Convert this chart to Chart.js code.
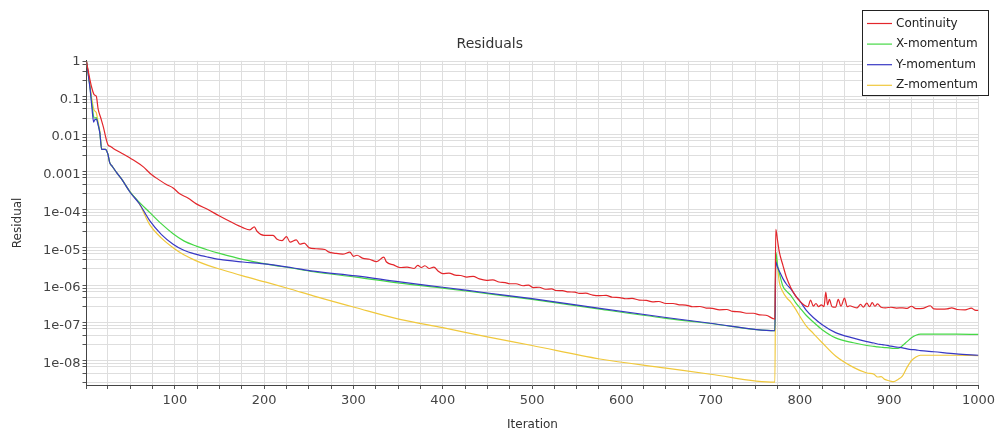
<!DOCTYPE html>
<html>
<head>
<meta charset="utf-8">
<title>Residuals</title>
<script src="https://cdn.jsdelivr.net/npm/chart.js@4.4.1/dist/chart.umd.min.js"></script>
<style>
  body { margin: 0; background: #fff; }
  canvas { display: block; }
</style>
</head>
<body>
<canvas id="residualChart" width="999" height="436"></canvas>
<script>
// continuity residual, sampled where the trace changes
const contIter = [1, 3, 5, 7, 9, 10, 12, 14, 17, 20, 23, 25, 28, 31, 40, 53, 65, 72, 79, 90, 98, 105, 115, 124, 137, 150, 163, 176,
  184, 189, 192, 200, 210, 214, 220, 225, 229, 236, 240, 245, 250, 258, 268, 272, 280, 288, 296, 300, 304, 310, 318, 326, 334, 337,
  345, 352, 360, 368, 372, 376, 380, 385, 390, 395, 400, 407, 414, 420, 427, 434, 441, 449, 456, 463, 470, 475, 482, 490, 496,
  501, 508, 515, 522, 527, 534, 541, 548, 553, 560, 568, 576, 583, 590, 598, 605, 612, 620, 628, 635, 642, 650, 658, 665, 672,
  680, 688, 695, 702, 710, 718, 725, 733, 740, 748, 755, 762, 770, 772, 773, 775, 777, 781, 785, 790, 795, 800, 805, 809, 812,
  815, 818, 821, 824, 827, 829, 831, 833, 836, 840, 843, 846, 850, 853, 856, 860, 864, 868, 871, 875, 878, 881, 884, 887, 891,
  896, 902, 908, 915, 920, 925, 930, 938, 946, 950, 958, 965, 970, 976, 985, 992, 996, 1000];
const continuity = [1, 0.56, 0.32, 0.2, 0.14, 0.13, 0.12, 0.056, 0.032, 0.018, 0.0089, 0.0063, 0.0056, 0.005, 0.0038, 0.0025,
  0.0016, 0.0011, 8.3e-4, 5.6e-4, 4.5e-4, 3.2e-4, 2.4e-4, 1.7e-4, 1.2e-4, 8.1e-5, 5.6e-5, 4.0e-5,
  3.5e-5, 4.2e-5, 3.2e-5, 2.5e-5, 2.5e-5, 2.0e-5, 1.8e-5, 2.3e-5, 1.65e-5, 1.9e-5, 1.45e-5, 1.55e-5, 1.18e-5, 1.1e-5, 1.05e-5,
  9.1e-6, 8.3e-6, 7.9e-6, 8.9e-6, 6.9e-6, 7.4e-6, 6.2e-6, 5.8e-6, 5.0e-6, 6.6e-6, 4.9e-6,
  4.1e-6, 3.5e-6, 3.6e-6, 3.3e-6, 4.0e-6, 3.5e-6, 3.9e-6, 3.3e-6, 3.6e-6, 2.8e-6, 2.4e-6, 2.5e-6, 2.2e-6, 2.15e-6, 1.95e-6,
  2.05e-6, 1.75e-6, 1.6e-6, 1.65e-6, 1.45e-6, 1.4e-6, 1.3e-6, 1.3e-6, 1.15e-6, 1.2e-6,
  1.03e-6, 1.05e-6, 9.3e-7, 9.5e-7, 8.6e-7, 8.5e-7, 7.9e-7, 7.8e-7, 7.2e-7, 7.3e-7, 6.5e-7, 6.3e-7, 6.4e-7, 5.7e-7, 5.6e-7,
  5.2e-7, 5.3e-7, 4.8e-7, 4.7e-7, 4.3e-7, 4.4e-7, 3.9e-7, 3.9e-7, 3.6e-7, 3.55e-7,
  3.2e-7, 3.25e-7, 2.95e-7, 2.9e-7, 2.65e-7, 2.7e-7, 2.4e-7, 2.35e-7, 2.15e-7, 2.15e-7, 1.95e-7, 1.9e-7, 1.55e-7, 1.5e-7,
  3.6e-5, 1.8e-5, 8.9e-6, 4.0e-6, 1.9e-6, 1.0e-6, 6.3e-7, 4.5e-7, 3.5e-7, 3.2e-7, 4.8e-7,
  3.3e-7, 3.9e-7, 3.2e-7, 3.6e-7, 3.2e-7, 7.8e-7, 3.6e-7, 5.0e-7, 3.2e-7, 3.1e-7, 5.0e-7, 3.3e-7, 5.4e-7, 3.2e-7, 3.4e-7,
  3.15e-7, 3.0e-7, 3.7e-7, 3.1e-7, 4.0e-7, 3.2e-7, 4.1e-7, 3.3e-7, 3.8e-7, 3.1e-7,
  3.0e-7, 3.1e-7, 2.95e-7, 3.0e-7, 2.9e-7, 3.3e-7, 2.85e-7, 2.9e-7, 3.4e-7, 2.8e-7, 2.75e-7, 2.8e-7, 3.0e-7, 2.7e-7,
  2.65e-7, 2.95e-7, 2.6e-7, 2.55e-7];

// momentum residuals share one set of sample iterations
const momIter = [1, 3, 5, 7, 9, 10, 12, 14, 16, 18, 22, 25, 27, 30, 35, 40, 50, 60, 72, 85, 98, 110, 124, 137, 150,
  176, 203, 230, 255, 303, 352, 400, 450, 500, 576, 650, 700, 772, 773, 775, 777, 781, 785, 790, 795, 800, 807, 815,
  825, 840, 860, 875, 883, 887, 891, 895, 900, 905, 910, 915, 920, 925, 930, 935, 950, 975, 1000];
const xMomentum = [1, 0.45, 0.2, 0.079, 0.035, 0.032, 0.033, 0.022, 0.0126, 0.0047, 0.0047, 0.0035, 0.0021, 0.00166, 0.00112,
  7.9e-4, 3.5e-4, 1.9e-4, 1.0e-4, 5.0e-5, 2.75e-5, 1.78e-5, 1.29e-5, 1.02e-5, 8.3e-6,
  5.75e-6, 4.3e-6, 3.4e-6, 2.7e-6, 1.95e-6, 1.35e-6, 1.0e-6, 7.1e-7, 5.0e-7, 2.75e-7, 1.58e-7, 1.15e-7, 7.4e-8, 8.9e-6, 4.0e-6,
  2.5e-6, 1.12e-6, 8.3e-7, 6.3e-7, 4.2e-7, 3.0e-7, 1.9e-7, 1.26e-7, 7.9e-8, 4.8e-8, 3.55e-8, 3.0e-8, 2.85e-8, 2.75e-8, 2.7e-8,
  2.65e-8, 2.6e-8, 2.5e-8, 2.5e-8, 3.0e-8, 3.8e-8, 4.8e-8, 5.6e-8, 6.0e-8, 6.0e-8, 6.0e-8, 5.9e-8];
const yMomentum = [1, 0.45, 0.19, 0.063, 0.025, 0.028, 0.03, 0.021, 0.0126, 0.0047, 0.0047, 0.0035, 0.0021, 0.00166, 0.00112,
  7.9e-4, 3.4e-4, 1.74e-4, 6.0e-5, 2.6e-5, 1.45e-5, 1.0e-5, 7.8e-6, 6.6e-6, 5.75e-6,
  4.9e-6, 4.3e-6, 3.5e-6, 2.8e-6, 2.1e-6, 1.45e-6, 1.05e-6, 7.4e-7, 5.25e-7, 2.9e-7, 1.66e-7, 1.17e-7, 7.4e-8, 5.0e-6, 3.55e-6,
  2.8e-6, 1.78e-6, 1.26e-6, 9.3e-7, 6.3e-7, 4.5e-7, 2.6e-7, 1.66e-7, 1.07e-7, 6.6e-8, 4.7e-8, 3.8e-8, 3.5e-8, 3.3e-8, 3.2e-8,
  3.1e-8, 2.95e-8, 2.8e-8, 2.7e-8, 2.6e-8, 2.45e-8, 2.35e-8, 2.3e-8, 2.2e-8, 2.05e-8, 1.8e-8, 1.66e-8];
const zMomentum = [1, 0.5, 0.22, 0.1, 0.056, 0.05, 0.044, 0.025, 0.014, 0.0047, 0.0047, 0.0035, 0.0021, 0.00166, 0.00112,
  7.9e-4, 3.5e-4, 1.74e-4, 4.7e-5, 2.1e-5, 1.17e-5, 7.6e-6, 5.25e-6, 4.0e-6, 3.2e-6,
  2.1e-6, 1.41e-6, 9.3e-7, 6.2e-7, 3.0e-7, 1.48e-7, 8.9e-8, 5.1e-8, 3.0e-8, 1.32e-8, 7.6e-9, 5.2e-9, 3.2e-9, 7.9e-6, 3.55e-6,
  1.41e-6, 7.9e-7, 5.6e-7, 4.2e-7, 2.8e-7, 1.78e-7, 1.0e-7, 6.3e-8, 3.55e-8, 1.58e-8, 7.9e-9, 5.6e-9, 5.2e-9, 4.4e-9, 4.5e-9,
  3.8e-9, 3.5e-9, 3.3e-9, 3.8e-9, 4.7e-9, 7.9e-9, 1.2e-8, 1.5e-8, 1.66e-8, 1.66e-8, 1.66e-8, 1.62e-8];

const seriesNames = ['Continuity', 'X-momentum', 'Y-momentum', 'Z-momentum'];
const seriesColors = ['#e3262b', '#45d845', '#3838c4', '#f0c83c'];

// y grid/tick positions inside each decade (multiples of the decade value)
const yGridSteps = [1, 1.2, 3.2, 5.6, 8.3];
const yDecades = [-9, -8, -7, -6, -5, -4, -3, -2, -1, 0];

const FONT = 'DejaVu Sans';

function toPoints(xs, ys) {
  return xs.map((x, i) => ({ x: x, y: ys[i] }));
}

function decadeLabel(v) {
  const e = Math.round(Math.log10(v));
  if (Math.abs(Math.log10(v) - e) > 1e-6) return '';
  if (e >= -3) return String(Math.pow(10, e).toFixed(Math.max(0, -e)));
  return '1e-' + String(-e).padStart(2, '0');
}

// legend box drawn in the top right corner, above the plot
const legendBox = {
  id: 'legendBox',
  afterDraw(chart) {
    const ctx = chart.ctx;
    const x = 862.5, y = 10.5, w = 126, h = 85;
    ctx.save();
    ctx.fillStyle = '#fff';
    ctx.fillRect(x, y, w, h);
    ctx.strokeStyle = '#222';
    ctx.lineWidth = 1;
    ctx.strokeRect(x, y, w, h);
    ctx.font = '12px "' + FONT + '"';
    ctx.textBaseline = 'middle';
    ctx.fillStyle = '#222';
    chart.data.datasets.forEach((ds, i) => {
      const ry = 23.5 + i * 20.6;
      ctx.strokeStyle = ds.borderColor;
      ctx.lineWidth = 1.2;
      ctx.beginPath();
      ctx.moveTo(867, ry);
      ctx.lineTo(892, ry);
      ctx.stroke();
      ctx.fillText(ds.label, 896, ry);
    });
    ctx.restore();
  }
};

const ctx = document.getElementById('residualChart').getContext('2d');

new Chart(ctx, {
  type: 'line',
  data: {
    datasets: [
      { label: seriesNames[0], data: toPoints(contIter, continuity), borderColor: seriesColors[0], order: 0 },
      { label: seriesNames[1], data: toPoints(momIter, xMomentum), borderColor: seriesColors[1], order: 2 },
      { label: seriesNames[2], data: toPoints(momIter, yMomentum), borderColor: seriesColors[2], order: 1 },
      { label: seriesNames[3], data: toPoints(momIter, zMomentum), borderColor: seriesColors[3], order: 3 },
    ],
  },
  options: {
    responsive: false,
    animation: false,
    layout: { padding: { left: 0, right: 19.5, top: 0, bottom: 0 } },
    elements: {
      line: { borderWidth: 1.2, cubicInterpolationMode: 'monotone', fill: false },
      point: { radius: 0 },
    },
    plugins: {
      legend: { display: false },
      tooltip: { enabled: false },
      title: {
        display: true,
        text: 'Residuals',
        color: '#333',
        font: { family: FONT, size: 14, weight: 'normal' },
        padding: { top: 36, bottom: 8 },
      },
    },
    scales: {
      x: {
        type: 'linear',
        min: 1,
        max: 1000,
        afterFit: (scale) => { scale.height = 51; },
        grid: { color: '#dedede', tickColor: '#555', tickLength: 4 },
        border: { color: '#444' },
        ticks: {
          stepSize: 25,
          autoSkip: false,
          maxRotation: 0,
          padding: 4,
          color: '#444',
          font: { family: FONT, size: 13 },
          callback: (v) => (v % 100 === 0 ? v : ''),
        },
        title: {
          display: true,
          text: 'Iteration',
          color: '#333',
          font: { family: FONT, size: 12 },
          padding: { top: 0, bottom: 4 },
        },
      },
      y: {
        type: 'logarithmic',
        min: 2.7e-9,
        max: 1.05,
        afterFit: (scale) => { scale.width = 86.5; },
        afterBuildTicks: (scale) => {
          const ticks = [];
          yDecades.forEach((e) => {
            yGridSteps.forEach((s) => {
              const v = s * Math.pow(10, e);
              if (v >= scale.min && v <= scale.max) ticks.push({ value: v, major: s === 1 });
            });
          });
          ticks.sort((a, b) => a.value - b.value);
          scale.ticks = ticks;
        },
        grid: { color: '#dedede', tickColor: '#555', tickLength: 4 },
        border: { color: '#444' },
        ticks: {
          autoSkip: false,
          padding: 2,
          color: '#444',
          font: { family: FONT, size: 13 },
          callback: (v) => decadeLabel(v),
        },
        title: {
          display: true,
          text: 'Residual',
          color: '#333',
          font: { family: FONT, size: 12 },
          padding: { top: 11, bottom: 0 },
        },
      },
    },
  },
  plugins: [legendBox],
});
</script>
</body>
</html>
